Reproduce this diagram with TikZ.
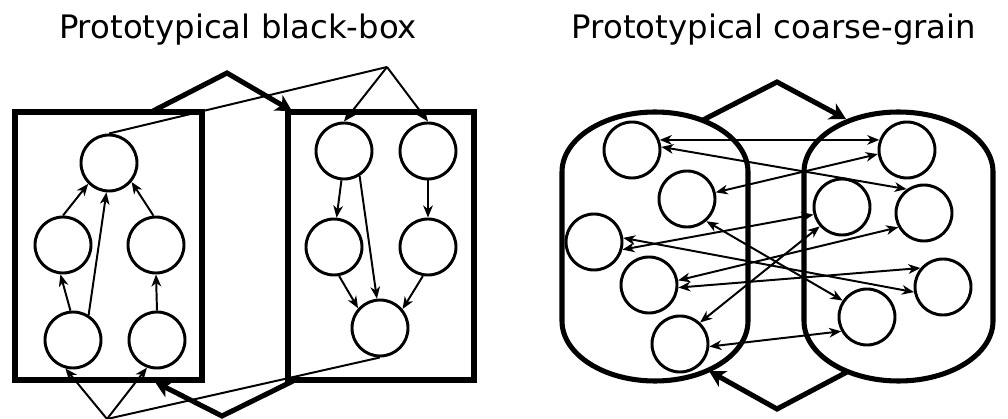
\documentclass[tikz,border=0pt]{standalone}
\usepackage{fontspec}
\setmainfont{DejaVu Sans}
\usetikzlibrary{arrows.meta}

\begin{document}
\begin{tikzpicture}
[x=0.025cm,y=-0.025cm,
  nodedecorate/.style={shape=circle,inner sep=0pt,minimum size=1.4cm,draw,line width=2.1pt},%
  boxdecorate/.style={draw,line width=3.6pt},%
  plaindecorate/.style={-,line width=1.4pt},%
  linedecorate/.style={-{Stealth[length=0.3cm,width=0.24cm,inset=0.09cm]},line width=1.4pt},%
  bothdecorate/.style={{Stealth[length=0.3cm,width=0.24cm,inset=0.09cm]}-{Stealth[length=0.3cm,width=0.24cm,inset=0.09cm]},line width=1.4pt},%
  bigarrow/.style={-{Stealth[length=0.4cm,width=0.44cm,inset=0.11cm]},line width=3.6pt,line join=miter},%
  titledecorate/.style={anchor=base,font=\fontsize{23}{28}\selectfont}]
\useasboundingbox (0,0) rectangle (1008,419);

%% titles
\node[titledecorate] (bbtitle) at (238,39) {Prototypical black-box};
\node[titledecorate] (cgtitle) at (774,39) {Prototypical coarse-grain};

%% black-box: boxes and thick arrows
\draw[boxdecorate] (15,112) rectangle (202,380);
\draw[boxdecorate] (288,112) rectangle (474,380);
\coordinate (bbtopfrom) at (153,111);
\coordinate (bbtoppeak) at (227,73);
\coordinate (bbtopto) at (292,111);
\coordinate (bbbotfrom) at (293,381);
\coordinate (bbbotpeak) at (222,416);
\coordinate (bbbotto) at (155,382);
\draw[bigarrow] (bbtopfrom) -- (bbtoppeak) -- (bbtopto);
\draw[bigarrow] (bbbotfrom) -- (bbbotpeak) -- (bbbotto);

%% coarse-grain: groups and thick arrows
\draw[boxdecorate] (562,172) arc[start angle=180,end angle=360,x radius=93,y radius=60]
  -- (748,321) arc[start angle=0,end angle=180,x radius=93,y radius=60] -- cycle;
\draw[boxdecorate] (804,172) arc[start angle=180,end angle=360,x radius=94.5,y radius=60]
  -- (993,321) arc[start angle=0,end angle=180,x radius=94.5,y radius=60] -- cycle;
\coordinate (cgtopfrom) at (703,120);
\coordinate (cgtoppeak) at (777,82);
\coordinate (cgtopto) at (846,119);
\coordinate (cgbotfrom) at (847,372);
\coordinate (cgbotpeak) at (777,409);
\coordinate (cgbotto) at (709,371);
\draw[bigarrow] (cgtopfrom) -- (cgtoppeak) -- (cgtopto);
\draw[bigarrow] (cgbotfrom) -- (cgbotpeak) -- (cgbotto);

%% nodes or vertices
\foreach \nodename/\x/\y in {l1/109/163, l2/63/245, l3/156/245, l4/73/340, l5/157/340,
  r1/344/151, r2/428/151, r3/334/247, r4/428/247, r5/380/328,
  ca/632/150, cb/687/199, cc/594/242, cd/649/285, ce/680/344,
  cf/907/150, cg/842/207, ch/924/213, ci/943/287, cj/867/317}
{
  \node (\nodename) at (\x,\y) [nodedecorate] {};
}

%% edges or lines
\path
\foreach \startnode/\endnode in {l4.95/l2.-95, l4.58/l1.265, l5.north/l3.south,
  l2.north/l1.225, l3.95/l1.-40,
  r1.-95/r3.85, r1.-58/r5.96, r2.south/r4.north, r3.-80/r5.138, r4.-100/r5.40} {
  (\startnode) edge[linedecorate] (\endnode)
};
\path
\foreach \startnode/\endnode in {ca.20/cf.160, ca.6/ch.126, cb.13/cf.188,
  cb.-49/cj.146, cc.8/ci.190, cc.-15/cg.195, cd.9/ch.209, cd.-5/ci.140,
  ce.47/cg.221, ce.-5/cj.209} {
  (\startnode) edge[bothdecorate] (\endnode)
};

%% links between the two levels
\coordinate (topjoin) at (387,67);
\coordinate (botjoin) at (107,419);
\draw[plaindecorate] (l1.north) -- (topjoin);
\draw[linedecorate] (topjoin) -- (r1.north);
\draw[linedecorate] (topjoin) -- (r2.north);
\draw[plaindecorate] (r5.south) -- (botjoin);
\draw[linedecorate] (botjoin) -- (l4.-105);
\draw[linedecorate] (botjoin) -- (l5.-110);
\end{tikzpicture}
\end{document}
